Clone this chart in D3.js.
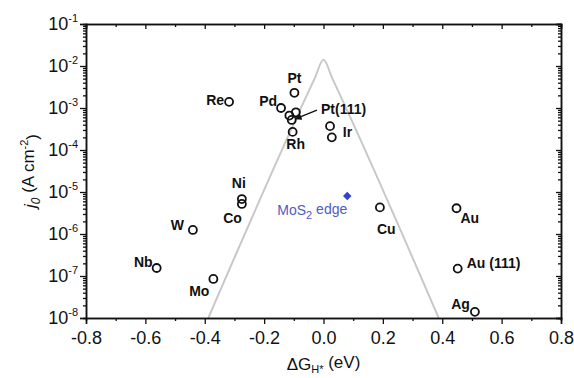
<!DOCTYPE html>
<html>
<head>
<meta charset="utf-8">
<script src="https://cdn.jsdelivr.net/npm/d3@7"></script>
<style>
  body { margin: 0; background: #fff; }
  svg { display: block; font-family: "Liberation Sans", Arial, sans-serif; }
</style>
</head>
<body>
<div id="drawing"></div>
<script>
const width = 574;
const height = 378;
const margin = {top: 24, right: 13, bottom: 60, left: 86};
const innerW = width - margin.left - margin.right;
const innerH = height - margin.top - margin.bottom;

// circles (metals)
const metalNames = ["Re", "Pt", "Pd", "Pt(111)", "Pt(111)", "Pt(111)", "Rh", "Ir", "Ir",
  "Ni", "Co", "W", "Nb", "Mo", "Cu", "Au", "Au (111)", "Ag"];
const metalDG = [-0.318, -0.098, -0.143, -0.093, -0.115, -0.107, -0.104, 0.022, 0.028,
  -0.275, -0.275, -0.440, -0.562, -0.371, 0.190, 0.448, 0.452, 0.510];
const metalJ0 = [1.4e-3, 2.3e-3, 1.0e-3, 7.9e-4, 6.6e-4, 5.2e-4, 2.7e-4, 3.7e-4, 2.0e-4,
  6.8e-6, 5.2e-6, 1.25e-6, 1.55e-7, 8.5e-8, 4.3e-6, 4.1e-6, 1.5e-7, 1.4e-8];

// MoS2 edge point
const mos2DG = [0.080];
const mos2J0 = [8.0e-6];

// volcano curve
const volcanoDG = [-0.388, -0.03, 0, 0.03, 0.388];
const volcanoJ0 = [1e-8, 5e-3, 1.4e-2, 5e-3, 1e-8];

// ticks
const xTicks = [-0.8, -0.6, -0.4, -0.2, 0.0, 0.2, 0.4, 0.6, 0.8];
const xMinor = [-0.7, -0.5, -0.3, -0.1, 0.1, 0.3, 0.5, 0.7];
const yExps = [-8, -7, -6, -5, -4, -3, -2, -1];

// which circle each label belongs to, and where the text sits (px)
const labelText = ["Re", "Pt", "Pd", "Rh", "Ir", "Ni", "Co", "W", "Nb", "Mo", "Cu", "Au", "Au (111)", "Ag"];
const labelAt = {
  "Re": {i: 0, dx: -5, dy: 3, anchor: "end"},
  "Pt": {i: 1, dx: 0, dy: -10, anchor: "middle"},
  "Pd": {i: 2, dx: -4, dy: -2, anchor: "end"},
  "Rh": {i: 6, dx: 3, dy: 17, anchor: "middle"},
  "Ir": {i: 8, dx: 11, dy: 0, anchor: "start"},
  "Ni": {i: 9, dx: -3, dy: -11, anchor: "middle"},
  "Co": {i: 10, dx: 0, dy: 19, anchor: "end"},
  "W": {i: 11, dx: -9, dy: 0, anchor: "end"},
  "Nb": {i: 12, dx: -4, dy: -1, anchor: "end"},
  "Mo": {i: 13, dx: -4, dy: 17, anchor: "end"},
  "Cu": {i: 14, dx: -3, dy: 27, anchor: "start"},
  "Au": {i: 15, dx: 4, dy: 15, anchor: "start"},
  "Au (111)": {i: 16, dx: 9, dy: -1, anchor: "start"},
  "Ag": {i: 17, dx: -5, dy: -3, anchor: "end"}
};
// arrow pointing at the Pt(111) cluster
const arrowFrom = {dg: -0.022, j: 8.9e-4};
const arrowTo = {dg: -0.095, j: 5.5e-4};

let svg, g, xScale, yScale;

function setup() {
  svg = d3.select("#drawing").append("svg")
    .attr("width", width)
    .attr("height", height);

  g = svg.append("g")
    .attr("transform", `translate(${margin.left}, ${margin.top})`);

  xScale = d3.scaleLinear().domain([-0.8, 0.8]).range([0, innerW]);
  yScale = d3.scaleLog().domain([1e-8, 1e-1]).range([innerH, 0]);

  svg.append("defs").append("marker")
    .attr("id", "arrowhead")
    .attr("viewBox", "0 0 10 10")
    .attr("refX", 9).attr("refY", 5)
    .attr("markerWidth", 5).attr("markerHeight", 5)
    .attr("markerUnits", "strokeWidth")
    .attr("orient", "auto")
    .append("path")
      .attr("d", "M0,0 L10,5 L0,10 z")
      .attr("fill", "#111");
}

function make() {
  const yMajor = yExps.map(e => Math.pow(10, e));
  const yMinor = [];
  yExps.slice(0, -1).forEach(e => {
    for (let k = 2; k <= 9; k++) yMinor.push(k * Math.pow(10, e));
  });

  // volcano
  const pts = volcanoDG.map((d, i) => [d, volcanoJ0[i]]);
  g.append("path")
    .datum(pts)
    .attr("fill", "none")
    .attr("stroke", "#c8c8c8")
    .attr("stroke-width", 2)
    .attr("d", d3.line()
      .x(d => xScale(d[0]))
      .y(d => yScale(d[1]))
      .curve(d3.curveMonotoneX));

  // axes: bottom + left outward, top + right inward
  const styleAxis = (sel) => {
    sel.selectAll(".domain").attr("stroke", "#111").attr("stroke-width", 1.5);
    sel.selectAll(".tick line").attr("stroke", "#111").attr("stroke-width", 1.3);
  };

  g.append("g")
    .attr("transform", `translate(0,${innerH})`)
    .call(d3.axisBottom(xScale).tickValues(xMinor).tickSize(3).tickFormat(""))
    .call(styleAxis);
  const xAxis = g.append("g")
    .attr("transform", `translate(0,${innerH})`)
    .call(d3.axisBottom(xScale).tickValues(xTicks).tickSize(6).tickPadding(7)
      .tickFormat(d => d.toFixed(1)))
    .call(styleAxis);
  xAxis.selectAll("text")
    .attr("font-size", 18)
    .attr("font-family", "Liberation Sans, Arial, sans-serif")
    .attr("fill", "#111");

  g.append("g")
    .call(d3.axisTop(xScale).tickValues(xMinor).tickSize(-3).tickFormat(""))
    .call(styleAxis);
  g.append("g")
    .call(d3.axisTop(xScale).tickValues(xTicks).tickSize(-5).tickFormat(""))
    .call(styleAxis);

  g.append("g")
    .call(d3.axisLeft(yScale).tickValues(yMinor).tickSize(3).tickFormat(""))
    .call(styleAxis);
  g.append("g")
    .call(d3.axisLeft(yScale).tickValues(yMajor).tickSize(6).tickFormat(""))
    .call(styleAxis);

  g.append("g")
    .attr("transform", `translate(${innerW},0)`)
    .call(d3.axisRight(yScale).tickValues(yMinor).tickSize(-3).tickFormat(""))
    .call(styleAxis);
  g.append("g")
    .attr("transform", `translate(${innerW},0)`)
    .call(d3.axisRight(yScale).tickValues(yMajor).tickSize(-5).tickFormat(""))
    .call(styleAxis);

  // y tick labels 10^n
  const yLab = g.selectAll(".ylab")
    .data(yExps)
    .enter()
    .append("text")
      .attr("class", "ylab")
      .attr("x", -8)
      .attr("y", d => yScale(Math.pow(10, d)))
      .attr("dy", "0.36em")
      .attr("text-anchor", "end")
      .attr("font-size", 18)
      .attr("fill", "#111");
  yLab.append("tspan").text("10");
  yLab.append("tspan")
    .attr("font-size", 11)
    .attr("dy", "-0.75em")
    .text(d => String(d));

  // circles
  g.selectAll(".metal")
    .data(metalDG)
    .enter()
    .append("circle")
      .attr("class", "metal")
      .attr("cx", d => xScale(d))
      .attr("cy", (d, i) => yScale(metalJ0[i]))
      .attr("r", 4)
      .attr("fill", "none")
      .attr("stroke", "#111")
      .attr("stroke-width", 1.8);

  // MoS2 edge diamond
  g.selectAll(".mos2")
    .data(mos2DG)
    .enter()
    .append("path")
      .attr("class", "mos2")
      .attr("transform", (d, i) => `translate(${xScale(d)},${yScale(mos2J0[i])}) rotate(45)`)
      .attr("d", "M-3,-3 L3,-3 L3,3 L-3,3 Z")
      .attr("fill", "#2f43d8");

  const mosText = g.append("text")
    .attr("x", xScale(mos2DG[0]))
    .attr("y", yScale(mos2J0[0]) + 19)
    .attr("text-anchor", "end")
    .attr("font-size", 14)
    .attr("fill", "#4d5cc4");
  mosText.append("tspan").text("MoS");
  mosText.append("tspan").attr("font-size", 11).attr("dy", "0.35em").text("2");
  mosText.append("tspan").attr("dy", "-0.35em").text(" edge");

  // metal labels
  g.selectAll(".mlab")
    .data(labelText)
    .enter()
    .append("text")
      .attr("class", "mlab")
      .attr("x", d => xScale(metalDG[labelAt[d].i]) + labelAt[d].dx)
      .attr("y", d => yScale(metalJ0[labelAt[d].i]) + labelAt[d].dy)
      .attr("text-anchor", d => labelAt[d].anchor)
      .attr("font-size", 14)
      .attr("font-weight", "bold")
      .attr("fill", "#111")
      .text(d => d);

  // Pt(111) arrow + label
  g.append("line")
    .attr("x1", xScale(arrowFrom.dg)).attr("y1", yScale(arrowFrom.j))
    .attr("x2", xScale(arrowTo.dg)).attr("y2", yScale(arrowTo.j))
    .attr("stroke", "#111")
    .attr("stroke-width", 1.4)
    .attr("marker-end", "url(#arrowhead)");
  g.append("text")
    .attr("x", xScale(arrowFrom.dg) + 4)
    .attr("y", yScale(arrowFrom.j) + 4)
    .attr("font-size", 14)
    .attr("font-weight", "bold")
    .attr("fill", "#111")
    .text("Pt(111)");

  // axis titles
  const xt = svg.append("text")
    .attr("x", margin.left + innerW / 2)
    .attr("y", 370)
    .attr("text-anchor", "middle")
    .attr("font-size", 17)
    .attr("fill", "#111");
  xt.append("tspan").text("ΔG");
  xt.append("tspan").attr("font-size", 11).attr("dy", "0.3em").text("H*");
  xt.append("tspan").attr("dy", "-0.3em").text(" (eV)");

  const yt = svg.append("text")
    .attr("transform", `translate(36, ${margin.top + innerH / 2}) rotate(-90)`)
    .attr("text-anchor", "middle")
    .attr("font-size", 17)
    .attr("fill", "#111");
  yt.append("tspan").attr("font-style", "italic").text("j");
  yt.append("tspan").attr("font-style", "italic").attr("font-size", 12).attr("dy", "0.35em").text("0");
  yt.append("tspan").attr("dy", "-0.35em").text(" (A cm");
  yt.append("tspan").attr("font-size", 11).attr("dy", "-0.6em").text("-2");
  yt.append("tspan").attr("dy", "0.6em").text(")");
}

setup();
make();
</script>
</body>
</html>
